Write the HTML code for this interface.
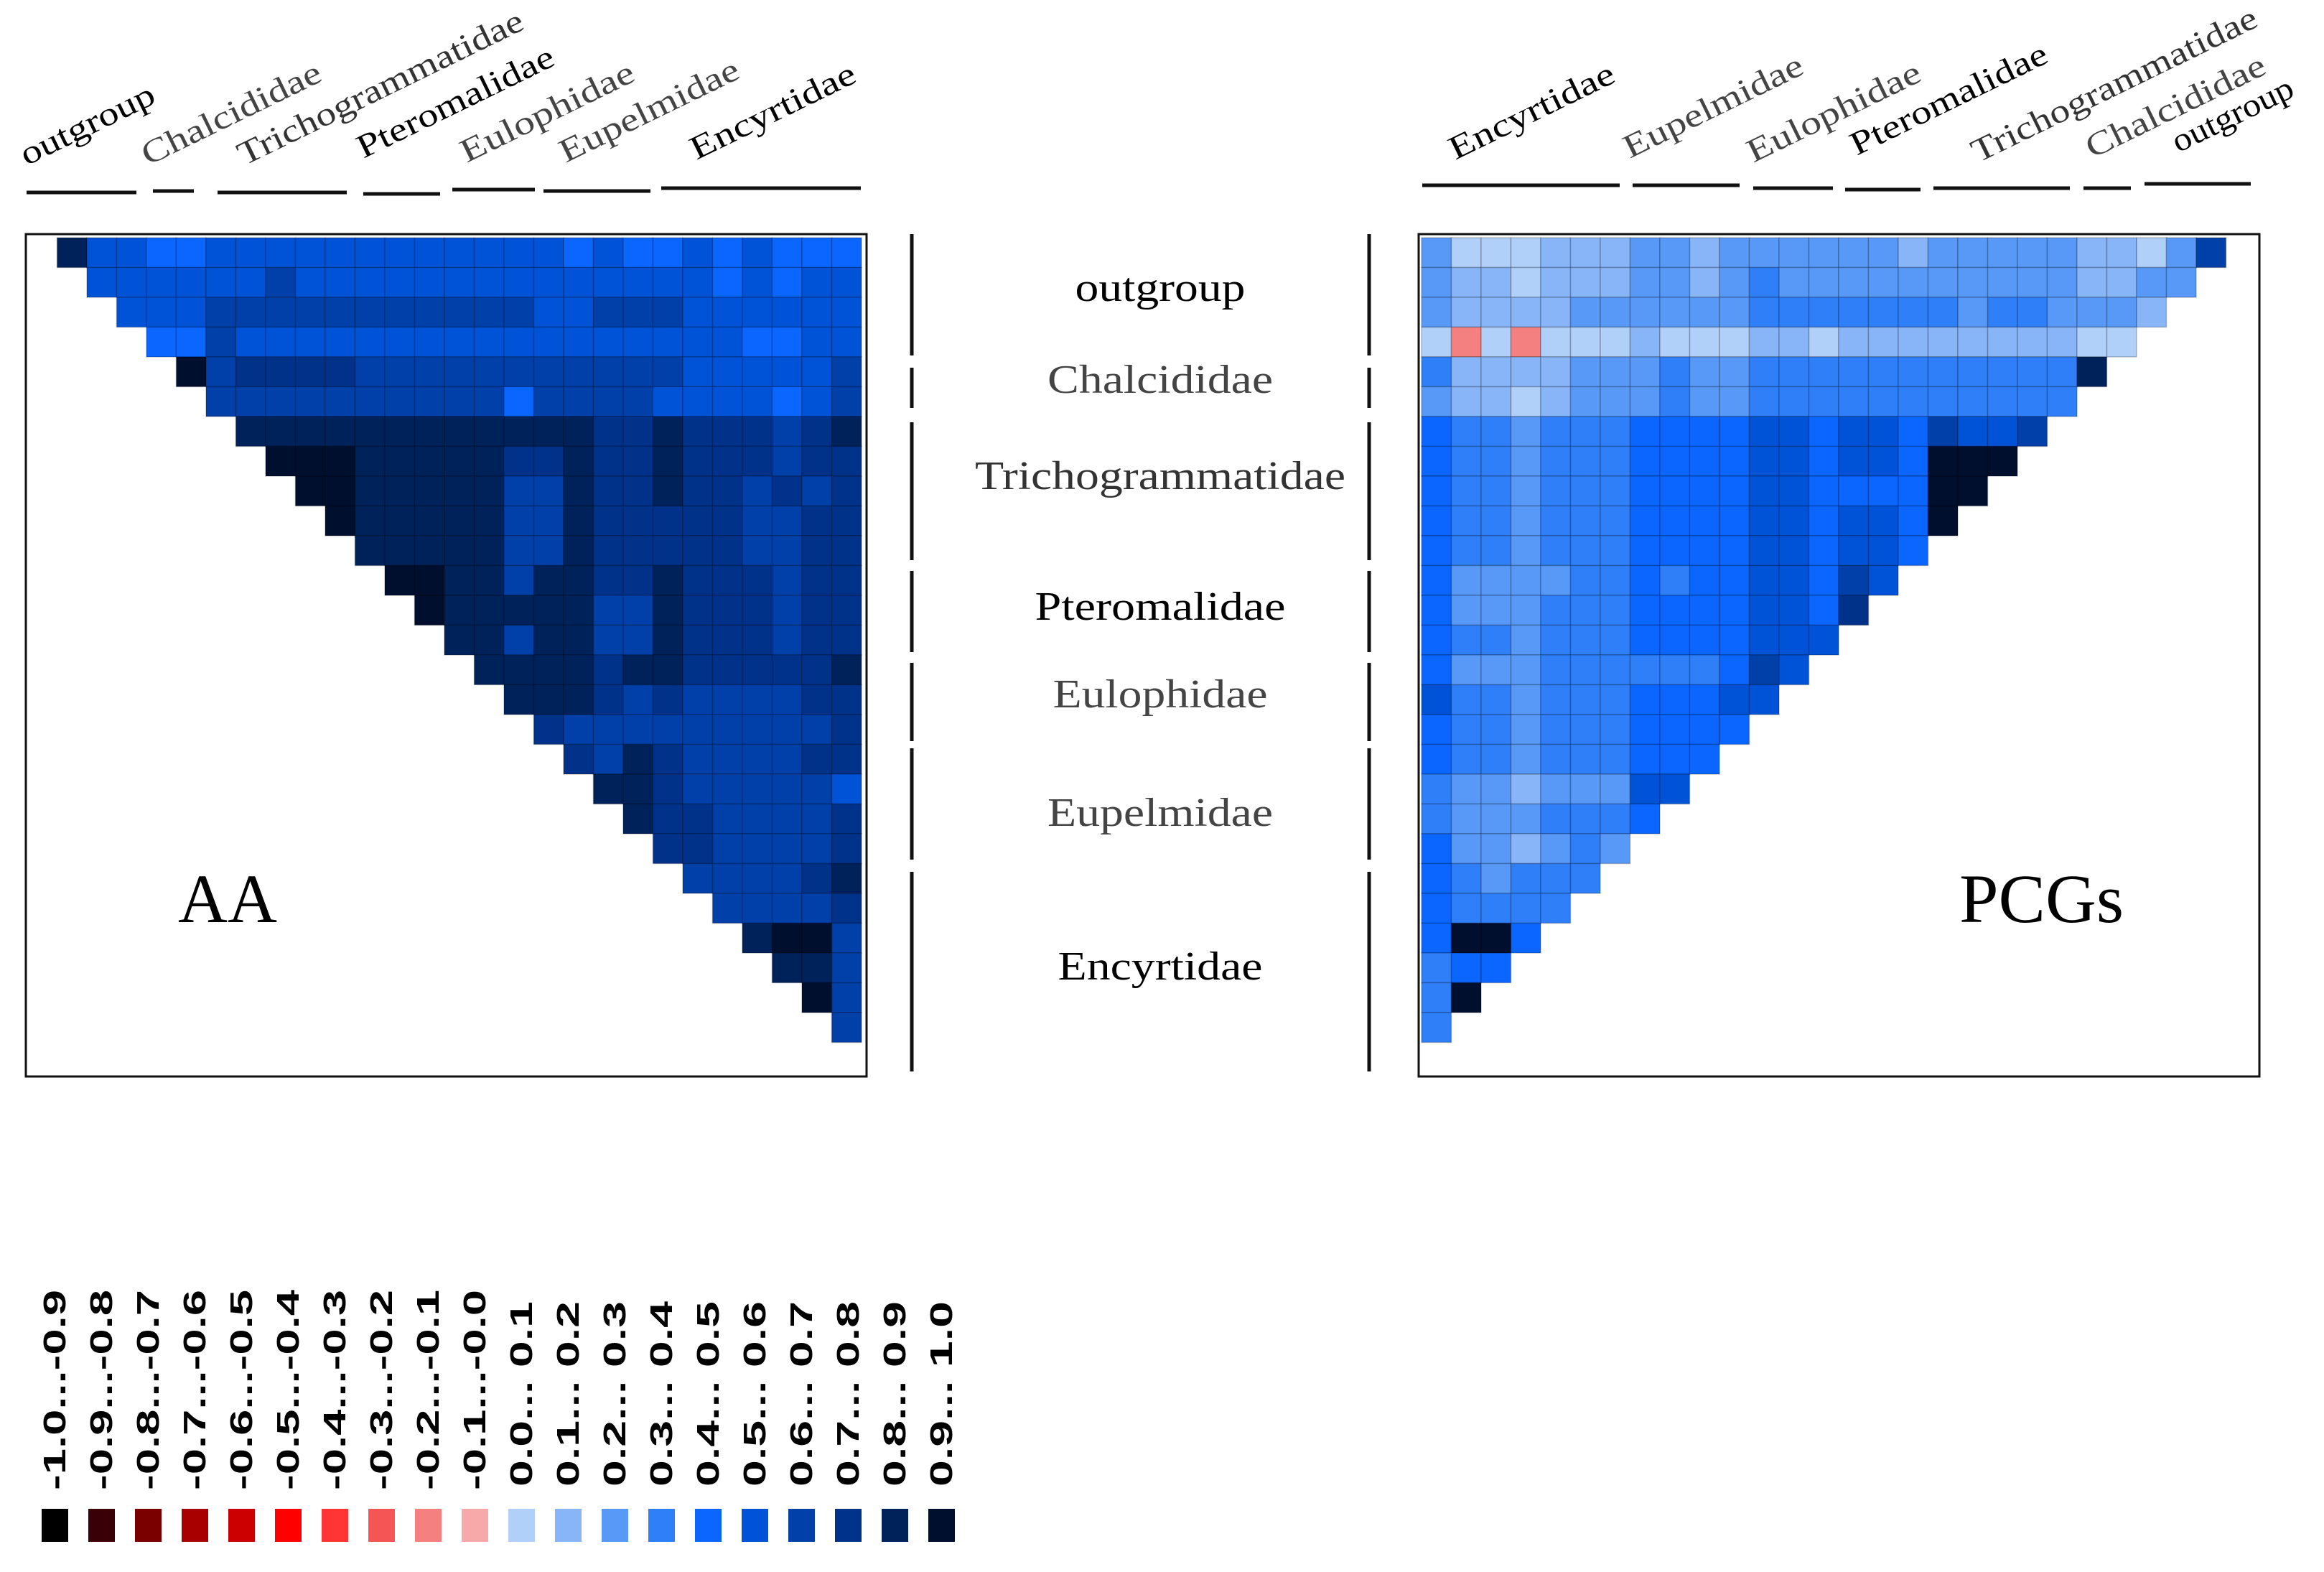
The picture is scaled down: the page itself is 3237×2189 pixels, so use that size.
<!DOCTYPE html>
<html><head><meta charset="utf-8">
<style>
html,body{margin:0;padding:0;background:#fff;}
svg{display:block;}
</style></head>
<body>
<svg id="chart" xmlns="http://www.w3.org/2000/svg" width="3237" height="2189" viewBox="0 0 3237 2189">
<rect x="0" y="0" width="3237" height="2189" fill="#fff"/>
<g id="aa-cells"></g>
<g id="pcg-cells"></g>
<rect x="36" y="326" width="1171" height="1173" fill="none" stroke="#111" stroke-width="3"/>
<rect x="1976" y="326" width="1171" height="1173" fill="none" stroke="#111" stroke-width="3"/>
<text x="248" y="1284" font-family="Liberation Serif, serif" font-size="96" textLength="138" lengthAdjust="spacingAndGlyphs" fill="#000">AA</text>
<text x="2729" y="1284" font-family="Liberation Serif, serif" font-size="96" textLength="229" lengthAdjust="spacingAndGlyphs" fill="#000">PCGs</text>
<g id="top-labels"></g>
<g id="mid"></g>
<g id="legend"></g>
</svg>
<script>
const NS='http://www.w3.org/2000/svg';
// AA matrix: row r covers columns r+1..27
const aaValues=[
[0.85,0.55,0.55,0.42,0.42,0.55,0.55,0.55,0.55,0.55,0.55,0.55,0.55,0.55,0.55,0.55,0.55,0.45,0.55,0.45,0.45,0.5,0.45,0.55,0.48,0.45,0.45],
[0.55,0.55,0.52,0.52,0.55,0.55,0.6,0.55,0.55,0.55,0.55,0.55,0.55,0.55,0.55,0.52,0.52,0.55,0.55,0.55,0.55,0.42,0.52,0.42,0.52,0.52],
[0.52,0.52,0.55,0.62,0.62,0.62,0.62,0.62,0.62,0.62,0.62,0.62,0.62,0.62,0.55,0.52,0.62,0.62,0.62,0.55,0.55,0.5,0.55,0.52,0.55],
[0.42,0.42,0.62,0.55,0.55,0.55,0.55,0.55,0.55,0.55,0.55,0.55,0.55,0.55,0.55,0.55,0.55,0.55,0.55,0.55,0.42,0.42,0.52,0.55],
[0.95,0.6,0.7,0.7,0.7,0.7,0.6,0.6,0.6,0.6,0.6,0.6,0.6,0.6,0.6,0.6,0.6,0.55,0.55,0.52,0.55,0.55,0.65],
[0.62,0.62,0.62,0.62,0.62,0.62,0.62,0.62,0.62,0.62,0.45,0.62,0.62,0.62,0.62,0.5,0.5,0.52,0.5,0.42,0.52,0.62],
[0.82,0.82,0.82,0.82,0.82,0.82,0.82,0.82,0.82,0.82,0.82,0.82,0.72,0.72,0.85,0.72,0.72,0.72,0.68,0.72,0.85],
[0.95,0.95,0.95,0.82,0.82,0.82,0.82,0.82,0.7,0.7,0.82,0.72,0.72,0.82,0.72,0.72,0.72,0.68,0.72,0.72],
[0.95,0.95,0.82,0.82,0.82,0.82,0.82,0.68,0.68,0.82,0.7,0.7,0.82,0.72,0.72,0.65,0.7,0.68,0.72],
[0.95,0.82,0.82,0.82,0.82,0.82,0.68,0.68,0.82,0.7,0.7,0.72,0.72,0.72,0.68,0.62,0.7,0.72],
[0.82,0.82,0.82,0.82,0.82,0.68,0.68,0.82,0.7,0.7,0.7,0.72,0.7,0.62,0.65,0.72,0.72],
[0.95,0.95,0.82,0.82,0.68,0.82,0.82,0.7,0.7,0.82,0.72,0.7,0.7,0.62,0.72,0.72],
[0.95,0.82,0.82,0.8,0.82,0.8,0.68,0.68,0.82,0.72,0.7,0.7,0.62,0.72,0.72],
[0.82,0.82,0.68,0.82,0.82,0.68,0.68,0.82,0.72,0.7,0.7,0.62,0.72,0.72],
[0.82,0.82,0.82,0.8,0.7,0.85,0.85,0.72,0.72,0.7,0.72,0.72,0.85],
[0.82,0.82,0.8,0.7,0.68,0.7,0.68,0.6,0.68,0.62,0.72,0.7],
[0.75,0.6,0.6,0.68,0.68,0.6,0.62,0.6,0.62,0.65,0.7],
[0.72,0.68,0.82,0.7,0.68,0.65,0.62,0.68,0.72,0.7],
[0.82,0.82,0.7,0.62,0.62,0.6,0.65,0.62,0.58],
[0.82,0.7,0.7,0.62,0.65,0.62,0.62,0.7],
[0.7,0.7,0.62,0.62,0.68,0.6,0.72],
[0.68,0.68,0.62,0.68,0.7,0.82],
[0.68,0.62,0.62,0.68,0.7],
[0.82,0.95,0.95,0.68],
[0.82,0.8,0.68],
[0.95,0.68],
[0.68]
];
// PCGs matrix: row r covers columns 0..26-r
const pcgValues=[
[0.25,0.07,0.07,0.07,0.15,0.15,0.15,0.2,0.25,0.15,0.25,0.25,0.25,0.25,0.25,0.25,0.15,0.25,0.25,0.25,0.25,0.25,0.18,0.15,0.07,0.25,0.65],
[0.25,0.17,0.17,0.07,0.17,0.17,0.17,0.25,0.25,0.15,0.25,0.35,0.25,0.25,0.25,0.25,0.25,0.25,0.25,0.25,0.25,0.25,0.18,0.18,0.2,0.25],
[0.25,0.18,0.18,0.18,0.18,0.25,0.25,0.25,0.25,0.25,0.25,0.35,0.35,0.35,0.35,0.35,0.35,0.35,0.25,0.35,0.35,0.25,0.25,0.2,0.18],
[0.07,-0.15,0.07,-0.15,0.07,0.07,0.07,0.15,0.07,0.07,0.07,0.15,0.15,0.07,0.15,0.15,0.15,0.15,0.15,0.15,0.15,0.18,0.07,0.07],
[0.35,0.18,0.18,0.18,0.18,0.25,0.25,0.25,0.35,0.25,0.25,0.35,0.35,0.35,0.35,0.35,0.35,0.35,0.35,0.35,0.35,0.35,0.85],
[0.25,0.18,0.18,0.07,0.18,0.25,0.25,0.25,0.35,0.25,0.25,0.35,0.35,0.35,0.35,0.35,0.35,0.35,0.35,0.35,0.35,0.35],
[0.45,0.35,0.35,0.28,0.35,0.35,0.35,0.45,0.45,0.45,0.45,0.55,0.55,0.45,0.55,0.55,0.45,0.65,0.55,0.55,0.65],
[0.45,0.35,0.35,0.28,0.35,0.35,0.35,0.45,0.45,0.45,0.45,0.55,0.55,0.45,0.55,0.55,0.45,0.95,0.95,0.95],
[0.45,0.35,0.35,0.28,0.35,0.35,0.35,0.45,0.45,0.45,0.45,0.55,0.55,0.45,0.45,0.45,0.45,0.95,0.95],
[0.45,0.35,0.35,0.28,0.35,0.35,0.35,0.45,0.45,0.45,0.45,0.55,0.55,0.45,0.55,0.55,0.45,0.95],
[0.45,0.35,0.35,0.28,0.35,0.35,0.35,0.45,0.45,0.45,0.45,0.55,0.55,0.45,0.55,0.55,0.45],
[0.45,0.28,0.28,0.28,0.28,0.35,0.35,0.45,0.35,0.45,0.45,0.55,0.55,0.45,0.65,0.55],
[0.45,0.28,0.28,0.28,0.35,0.35,0.35,0.45,0.45,0.45,0.45,0.55,0.55,0.45,0.75],
[0.45,0.35,0.35,0.28,0.35,0.35,0.35,0.45,0.45,0.45,0.45,0.55,0.55,0.55],
[0.45,0.28,0.28,0.28,0.35,0.35,0.35,0.38,0.38,0.38,0.45,0.65,0.55],
[0.55,0.35,0.35,0.28,0.35,0.35,0.35,0.45,0.45,0.45,0.55,0.55],
[0.45,0.35,0.35,0.28,0.35,0.35,0.35,0.45,0.45,0.45,0.45],
[0.45,0.35,0.35,0.28,0.35,0.35,0.35,0.45,0.45,0.45],
[0.35,0.25,0.25,0.18,0.25,0.25,0.25,0.55,0.55],
[0.35,0.25,0.25,0.25,0.35,0.35,0.35,0.45],
[0.45,0.25,0.25,0.18,0.25,0.35,0.25],
[0.45,0.35,0.25,0.35,0.35,0.35],
[0.45,0.35,0.35,0.35,0.35],
[0.45,0.95,0.95,0.45],
[0.35,0.45,0.45],
[0.35,0.95],
[0.35]
];
const legendLabels=["-1.0...-0.9","-0.9...-0.8","-0.8...-0.7","-0.7...-0.6","-0.6...-0.5","-0.5...-0.4","-0.4...-0.3","-0.3...-0.2","-0.2...-0.1","-0.1...-0.0","0.0... 0.1","0.1... 0.2","0.2... 0.3","0.3... 0.4","0.4... 0.5","0.5... 0.6","0.6... 0.7","0.7... 0.8","0.8... 0.9","0.9... 1.0"];
const families=["outgroup","Chalcididae","Trichogrammatidae","Pteromalidae","Eulophidae","Eupelmidae","Encyrtidae"];
const familyColors=["#000","#444","#333","#000","#444","#444","#000"];

const palette=["#000000","#3a0008","#7a0000","#a80000","#cc0000","#ff0000","#ff3535","#f55555","#f58080","#f7a8a8",
"#b0cff9","#88b4f8","#5898f6","#2f7ff9","#0a66ff","#0052d6","#0040a8","#00328a","#00225a","#000f2e"];
function colorOf(v){let i=Math.floor((v+1)*10);if(i<0)i=0;if(i>19)i=19;return palette[i];}

const CELL=41.5;
function cellX(x0,c){return x0+c*CELL;}
function cellY(y0,r){return y0+r*CELL;}

const aaG=document.getElementById('aa-cells');
aaValues.forEach((row,r)=>{row.forEach((v,k)=>{
  const c=r+1+k;
  const el=document.createElementNS(NS,'rect');
  
  
  el.setAttribute('x',cellX(38,c));el.setAttribute('y',cellY(331,r));
  el.setAttribute('width',CELL);el.setAttribute('height',CELL);
  el.setAttribute('fill',colorOf(v));el.setAttribute('stroke','rgba(0,0,0,0.22)');el.setAttribute('stroke-width','1.5');
  aaG.appendChild(el);
});});
const pcG=document.getElementById('pcg-cells');
pcgValues.forEach((row,r)=>{row.forEach((v,c)=>{
  const el=document.createElementNS(NS,'rect');
  
  
  el.setAttribute('x',cellX(1980,c));el.setAttribute('y',cellY(331,r));
  el.setAttribute('width',CELL);el.setAttribute('height',CELL);
  el.setAttribute('fill',colorOf(v));el.setAttribute('stroke','rgba(0,0,0,0.22)');el.setAttribute('stroke-width','1.5');
  pcG.appendChild(el);
});});

function txt(parent,s,x,y,opts){
  const t=document.createElementNS(NS,'text');
  t.textContent=s;
  t.setAttribute('x',x);t.setAttribute('y',y);
  for(const k in opts)t.setAttribute(k,opts[k]);
  parent.appendChild(t);return t;
}
function line(parent,x1,y1,x2,y2,w){
  const l=document.createElementNS(NS,'line');
  l.setAttribute('x1',x1);l.setAttribute('y1',y1);l.setAttribute('x2',x2);l.setAttribute('y2',y2);
  l.setAttribute('stroke','#111');l.setAttribute('stroke-width',w);
  parent.appendChild(l);return l;
}

// Top labels
const topG=document.getElementById('top-labels');
const aaStart=[[37,231],[206,231],[340,231],[506,221],[650,227],[788,227],[970,223]];
const slantLen=[203,273,437,300,264,273,251];
const aaBars=[[37,190,268],[213,270,266],[303,483,268],[506,613,270],[630,745,264],[757,906,266],[921,1199,262]];
families.forEach((f,i)=>{
  const t=txt(topG,f,aaStart[i][0],aaStart[i][1],{'font-family':'Liberation Serif, serif','font-size':'46','fill':familyColors[i],'textLength':slantLen[i],'lengthAdjust':'spacingAndGlyphs','transform':`rotate(-26 ${aaStart[i][0]} ${aaStart[i][1]})`});
  
  
  const b=line(topG,aaBars[i][0],aaBars[i][2],aaBars[i][1],aaBars[i][2],5);
  
  
});
const pcOrder=[6,5,4,3,2,1,0];
const pcStart=[[2027,223],[2270,221],[2442,227],[2586,217],[2755,227],[2914,221],[3034,213]];
const pcBars=[[1981,2256,258],[2274,2423,258],[2442,2553,262],[2570,2675,264],[2693,2883,262],[2902,2968,262],[2987,3135,256]];
pcOrder.forEach((fi,i)=>{
  const t=txt(topG,families[fi],pcStart[i][0],pcStart[i][1],{'font-family':'Liberation Serif, serif','font-size':'46','fill':familyColors[fi],'textLength':slantLen[fi]*(fi==0?0.9:1),'lengthAdjust':'spacingAndGlyphs','transform':`rotate(-26 ${pcStart[i][0]} ${pcStart[i][1]})`});
  
  
  const b=line(topG,pcBars[i][0],pcBars[i][2],pcBars[i][1],pcBars[i][2],5);
  
  
});

// Middle labels and separators
const midG=document.getElementById('mid');
const midBase=[419,547,681,863,985,1150,1364];
const midW=[237,314,516,349,299,314,285];
const segs=[[326,495],[512,568],[588,780],[795,908],[923,1032],[1042,1197],[1214,1492]];
families.forEach((f,i)=>{
  const t=txt(midG,f,1616,midBase[i],{'font-family':'Liberation Serif, serif','font-size':'56','fill':familyColors[i],'text-anchor':'middle','textLength':midW[i],'lengthAdjust':'spacingAndGlyphs'});
  
  
  const l1=line(midG,1270,segs[i][0],1270,segs[i][1],5);
  
  
  const l2=line(midG,1907,segs[i][0],1907,segs[i][1],5);
  
  
});

// Legend
const lg=document.getElementById('legend');
legendLabels.forEach((s,i)=>{
  const x=58+i*65;
  const r=document.createElementNS(NS,'rect');
  
  
  r.setAttribute('x',x);r.setAttribute('y',2101);r.setAttribute('width',37);r.setAttribute('height',46);
  r.setAttribute('fill',palette[i]);
  lg.appendChild(r);
  const cx=x+33, by= i<10?2075:2070;
  const t=txt(lg,s,cx,by,{'font-family':'Liberation Sans, sans-serif','font-weight':'bold','font-size':'44','fill':'#000','textLength':i<10?279:258,'lengthAdjust':'spacingAndGlyphs','transform':`rotate(-90 ${cx} ${by})`});
  
  
});
</script>
</body></html>
